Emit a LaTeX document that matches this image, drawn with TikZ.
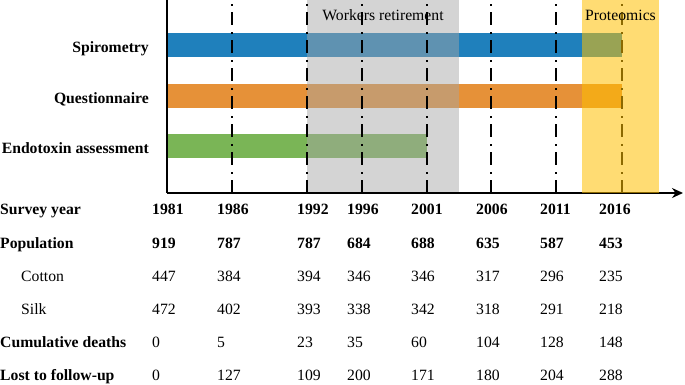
\documentclass[tikz,border=0pt]{standalone}
\usepackage{fontspec}
\setmainfont{Liberation Serif}
\usepackage{tikz}
\usetikzlibrary{arrows.meta, positioning}
\definecolor{barblue}{RGB}{31,128,188}
\definecolor{barorange}{RGB}{230,145,56}
\definecolor{bargreen}{RGB}{122,181,86}
\definecolor{shadegray}{RGB}{166,166,166}
\definecolor{shadeyellow}{RGB}{255,192,0}
\tikzset{
  rowlabel/.style={inner sep=0pt, font=\fontsize{15.7}{18}\selectfont\bfseries},
  sublabel/.style={inner sep=0pt, font=\fontsize{15.7}{18}\selectfont},
  cell/.style={inner sep=0pt, anchor=base west, font=\fontsize{15.7}{18}\selectfont},
  boldcell/.style={cell, font=\fontsize{15.7}{18}\selectfont\bfseries},
  yearline/.style={line width=2.6pt, black, dash pattern=on 13pt off 7pt on 2pt off 6pt, dash phase=16pt},
  axis/.style={line width=1.6pt, black}
}

\begin{document}
\begin{tikzpicture}[x=1pt, y=-1pt]
  \useasboundingbox (0,0) rectangle (685,384);

  % Axes
  \coordinate (ytop) at (167,0);
  \coordinate (origin) at (167,193);
  \coordinate (xend) at (683,193);

  % Measurement bars
  \fill[barblue] (168,33) rectangle (622,57);
  \fill[barorange] (168,84) rectangle (622,108);
  \fill[bargreen] (168,134) rectangle (427,158);

  % Workers retirement period
  \fill[shadegray, opacity=0.48] (307,0) rectangle (459,193);

  % Survey years
  \foreach \x in {232,307,362,427,491,556,622}
    \draw[yearline] (\x,0) -- (\x,193);

  \draw[axis] (ytop) -- (origin);
  \draw[axis, -{Stealth[length=11pt, width=10pt]}] (origin) -- (xend);

  % Proteomics period
  \fill[shadeyellow, opacity=0.55] (582,0) rectangle (659,193);

  \node[sublabel, anchor=base] (retire) at (383,20) {Workers retirement};
  \node[sublabel, anchor=base] (prot) at (620.5,20.5) {Proteomics};

  % Bar labels
  \node[rowlabel, anchor=base east] (spiro) at (149,52.5) {Spirometry};
  \node[rowlabel, anchor=base east] (quest) at (149,103) {Questionnaire};
  \node[rowlabel, anchor=base east] (endo) at (149,153) {Endotoxin assessment};

  % Table columns and rows
  \foreach \x [count=\c] in {152,217,297,347,411,476,540,599}
    \coordinate (col-\c) at (\x,0);
  \coordinate (row-year) at (0,214);
  \coordinate (row-pop) at (0,248);
  \coordinate (row-cotton) at (21,281);
  \coordinate (row-silk) at (21,314);
  \coordinate (row-deaths) at (0,347);
  \coordinate (row-lost) at (0,380);

  \node[rowlabel, anchor=base west] (lab-year) at (row-year) {Survey year};
  \node[rowlabel, anchor=base west] (lab-pop) at (row-pop) {Population};
  \node[sublabel, anchor=base west] (lab-cotton) at (row-cotton) {Cotton};
  \node[sublabel, anchor=base west] (lab-silk) at (row-silk) {Silk};
  \node[rowlabel, anchor=base west] (lab-deaths) at (row-deaths) {Cumulative deaths};
  \node[rowlabel, anchor=base west] (lab-lost) at (row-lost) {Lost to follow-up};

  \foreach \v [count=\c] in {1981,1986,1992,1996,2001,2006,2011,2016}
    \node[boldcell] (year-\c) at (col-\c |- row-year) {\v};
  \foreach \v [count=\c] in {919,787,787,684,688,635,587,453}
    \node[boldcell] (pop-\c) at (col-\c |- row-pop) {\v};
  \foreach \v [count=\c] in {447,384,394,346,346,317,296,235}
    \node[cell] (cotton-\c) at (col-\c |- row-cotton) {\v};
  \foreach \v [count=\c] in {472,402,393,338,342,318,291,218}
    \node[cell] (silk-\c) at (col-\c |- row-silk) {\v};
  \foreach \v [count=\c] in {0,5,23,35,60,104,128,148}
    \node[cell] (deaths-\c) at (col-\c |- row-deaths) {\v};
  \foreach \v [count=\c] in {0,127,109,200,171,180,204,288}
    \node[cell] (lost-\c) at (col-\c |- row-lost) {\v};
\end{tikzpicture}
\end{document}
